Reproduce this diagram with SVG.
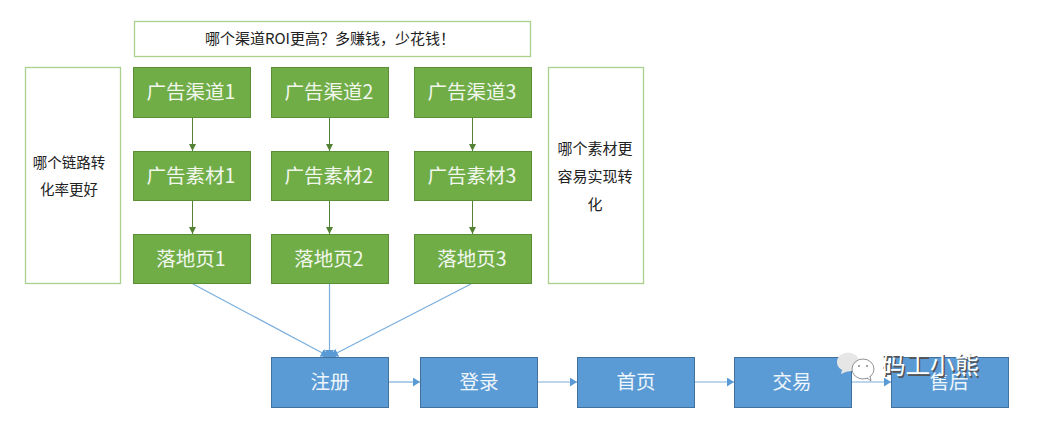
<svg xmlns="http://www.w3.org/2000/svg" width="1043" height="435" viewBox="0 0 1043 435">
<style>
text{font-family:"Noto Sans CJK SC","Liberation Sans",sans-serif;text-anchor:middle}
.g rect{fill:#70ad47;stroke:#5a8f38;stroke-width:1}
.g text{fill:#f2f7ee;font-size:19.500px}
.b rect{fill:#5b9bd5;stroke:#41719c;stroke-width:1}
.b text{fill:#eef5fb;font-size:19.500px}
.o rect{fill:#fff;stroke:#a9d18e;stroke-width:1.300}
.o text{fill:#222;font-size:14.500px}
.cg{stroke:#548235;stroke-width:1;fill:none;marker-end:url(#ag)}
.cb{stroke:#7aaedc;stroke-width:1.200;fill:none;marker-end:url(#ab)}
</style>
<defs>
<marker id="ag" markerUnits="userSpaceOnUse" markerWidth="8" markerHeight="7" refX="7" refY="3.500" orient="auto"><path d="M0 0L7 3.500L0 7z" fill="#548235"/></marker>
<marker id="ab" markerUnits="userSpaceOnUse" markerWidth="8" markerHeight="9" refX="7" refY="4.500" orient="auto"><path d="M0 0L7 4.500L0 9z" fill="#5b9bd5"/></marker>
</defs>
<rect width="1043" height="435" fill="#fff"/>
<g id="connectors">
<path class="cg" d="M192.500 118V151"/><path class="cg" d="M192.500 201V234"/>
<path class="cg" d="M329.500 118V151"/><path class="cg" d="M329.500 201V234"/>
<path class="cg" d="M472.500 118V151"/><path class="cg" d="M472.500 201V234"/>
<path class="cb" d="M193 284L328 356"/><path class="cb" d="M329.500 284V357"/><path class="cb" d="M471 284L331 356"/>
<path d="M323 357A6.500 6.500 0 0 1 336 357z" fill="#5b9bd5"/>
<path class="cb" d="M388 382H420"/><path class="cb" d="M538 382H577"/><path class="cb" d="M695 382H734"/><path class="cb" d="M851 382H891"/>
</g>
<g id="top-note" class="o"><rect x="134.500" y="21.500" width="396" height="35"/><text x="327" y="44" style="font-size:15px" transform="translate(3 0)">哪个渠道ROI更高？多赚钱，少花钱！</text></g>
<g id="left-note" class="o"><rect x="25.500" y="67.500" width="95" height="216"/><text x="69" y="168">哪个链路转</text><text x="69" y="195">化率更好</text></g>
<g id="right-note" class="o"><rect x="548.500" y="67.500" width="95" height="216"/><text x="595" y="154" style="font-size:15px">哪个素材更</text><text x="595" y="182" style="font-size:15px">容易实现转</text><text x="595" y="210" style="font-size:15px">化</text></g>
<g id="channel1" class="g"><rect x="133.500" y="67.500" width="117" height="50"/><text x="191" y="99">广告渠道1</text></g>
<g id="channel2" class="g"><rect x="271.500" y="67.500" width="117" height="50"/><text x="329" y="99">广告渠道2</text></g>
<g id="channel3" class="g"><rect x="414.500" y="67.500" width="117" height="50"/><text x="472" y="99">广告渠道3</text></g>
<g id="creative1" class="g"><rect x="133.500" y="151.500" width="117" height="49"/><text x="191" y="182.500">广告素材1</text></g>
<g id="creative2" class="g"><rect x="271.500" y="151.500" width="117" height="49"/><text x="329" y="182.500">广告素材2</text></g>
<g id="creative3" class="g"><rect x="414.500" y="151.500" width="117" height="49"/><text x="472" y="182.500">广告素材3</text></g>
<g id="landing1" class="g"><rect x="133.500" y="234.500" width="117" height="49"/><text x="191" y="265.500">落地页1</text></g>
<g id="landing2" class="g"><rect x="271.500" y="234.500" width="117" height="49"/><text x="329" y="265.500">落地页2</text></g>
<g id="landing3" class="g"><rect x="414.500" y="234.500" width="117" height="49"/><text x="472" y="265.500">落地页3</text></g>
<g id="register" class="b"><rect x="271.500" y="357.500" width="117" height="50"/><text x="330" y="389">注册</text></g>
<g id="login" class="b"><rect x="420.500" y="357.500" width="117" height="50"/><text x="479" y="389">登录</text></g>
<g id="home" class="b"><rect x="577.500" y="357.500" width="117" height="50"/><text x="636" y="389">首页</text></g>
<g id="trade" class="b"><rect x="734.500" y="357.500" width="117" height="50"/><text x="792" y="389">交易</text></g>
<g id="aftersale" class="b"><rect x="891.500" y="357.500" width="117" height="50"/><text x="949" y="389">售后</text></g>
<g id="watermark">
<ellipse cx="848" cy="362" rx="11" ry="9.500" fill="#e6e6e6"/>
<path d="M842 370L841 374L848 371z" fill="#e6e6e6"/>
<ellipse cx="863" cy="369" rx="11" ry="10" fill="#fff" stroke="#777" stroke-width="0.800"/>
<path d="M867 378L871 381L870 376" fill="#fff" stroke="#777" stroke-width="0.800"/>
<circle cx="859" cy="366" r="0.900" fill="#777"/><circle cx="867" cy="366" r="0.900" fill="#777"/>
<text x="930" y="374" font-size="24.500" fill="#555" transform="translate(1.500 1.500)">码工小熊</text>
<text x="930" y="374" font-size="24.500" fill="#fff">码工小熊</text>
</g>
</svg>
